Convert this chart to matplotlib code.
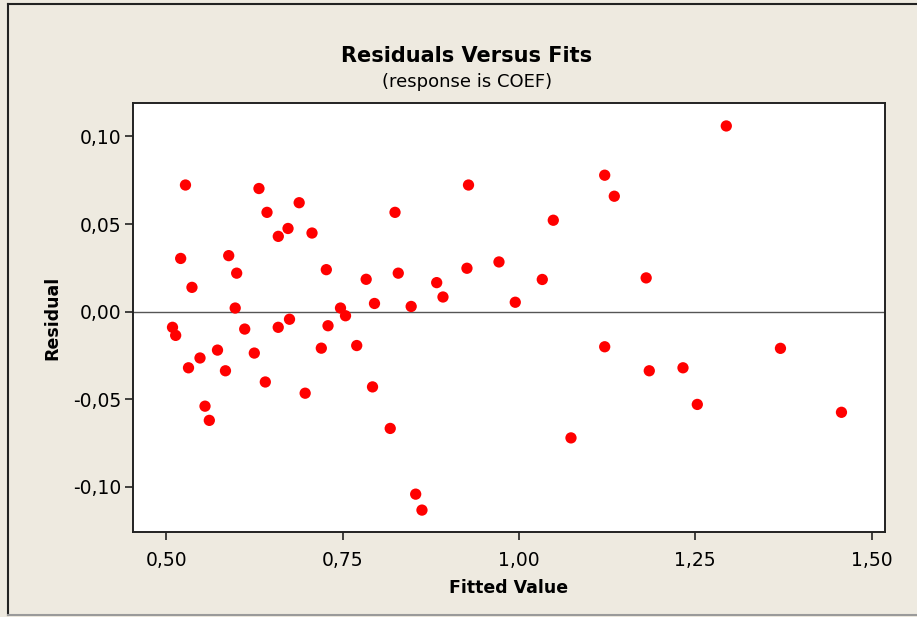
import matplotlib
matplotlib.use("Agg")
import matplotlib.pyplot as plt
from matplotlib.lines import Line2D
import numpy as np

# fitted values and residuals
fitted = [0.5088, 0.5133, 0.5204, 0.5272, 0.5315, 0.5364, 0.5478, 0.5549, 0.5610, 0.5726,
          0.5839, 0.5885, 0.5977, 0.5998, 0.6112, 0.6248, 0.6314, 0.6404, 0.6428, 0.6588,
          0.6587, 0.6726, 0.6747, 0.6884, 0.6969, 0.7066, 0.7198, 0.7269, 0.7293, 0.7470,
          0.7541, 0.7700, 0.7834, 0.7924, 0.7952, 0.8175, 0.8243, 0.8289, 0.8472, 0.8536,
          0.8625, 0.8834, 0.8923, 0.9263, 0.9285, 0.9717, 0.9948, 1.0331, 1.0487, 1.0738,
          1.1216, 1.1216, 1.1352, 1.1804, 1.1848, 1.2326, 1.2529, 1.2940, 1.3708, 1.4573]
residuals = [-0.0089, -0.0135, 0.0304, 0.0723, -0.0320, 0.0139, -0.0264, -0.0539, -0.0620, -0.0219,
             -0.0337, 0.0320, 0.0021, 0.0220, -0.0099, -0.0236, 0.0703, -0.0401, 0.0567, 0.0430,
             -0.0089, 0.0475, -0.0043, 0.0622, -0.0465, 0.0449, -0.0208, 0.0240, -0.0080, 0.0021,
             -0.0023, -0.0193, 0.0185, -0.0429, 0.0047, -0.0666, 0.0567, 0.0220, 0.0030, -0.1041,
             -0.1132, 0.0166, 0.0084, 0.0248, 0.0723, 0.0284, 0.0054, 0.0184, 0.0522, -0.0720,
             0.0779, -0.0200, 0.0659, 0.0193, -0.0337, -0.0320, -0.0529, 0.1060, -0.0209, -0.0574]

xTicks = [0.50, 0.75, 1.00, 1.25, 1.50]
xTickLabels = ["0,50", "0,75", "1,00", "1,25", "1,50"]
yTicks = [-0.10, -0.05, 0.00, 0.05, 0.10]
yTickLabels = ["-0,10", "-0,05", "0,00", "0,05", "0,10"]

BgColor = "#EEEAE0"
W, H = 917, 617

fig = plt.figure(figsize=(W / 100, H / 100), dpi=100, facecolor=BgColor)
ax = fig.add_axes([133 / W, 1 - 532 / H, (884.7 - 133) / W, (532 - 103) / H])
ax.set_facecolor("white")

ax.axhline(0, color="#555555", linewidth=1.0, zorder=1)
ax.scatter(fitted, residuals, s=66, color="#FF0000", edgecolors="none", zorder=3)

ax.set_xlim(0.4528, 1.5186)
ax.set_ylim(-0.1257, 0.1191)
ax.set_xticks(xTicks)
ax.set_xticklabels(xTickLabels)
ax.set_yticks(yTicks)
ax.set_yticklabels(yTickLabels)
ax.tick_params(axis="both", direction="out", length=5.5, width=1.2, color="#222222",
               labelsize=13.5, labelcolor="#000000")
ax.tick_params(axis="x", pad=8)
ax.tick_params(axis="y", pad=3)

for side in ["left", "right", "top", "bottom"]:
    ax.spines[side].set_color("#222222")
    ax.spines[side].set_linewidth(1.4)

# titles and axis labels
fig.text(467 / W, 1 - 62.3 / H, "Residuals Versus Fits", ha="center", va="baseline",
         fontsize=15, fontweight="bold", color="#000000")
fig.text(467 / W, 1 - 87.3 / H, "(response is COEF)", ha="center", va="baseline",
         fontsize=13, color="#000000")
fig.text(508.8 / W, 1 - 593.3 / H, "Fitted Value", ha="center", va="baseline",
         fontsize=12.5, fontweight="bold", color="#000000")
fig.text(52 / W, 1 - 317.5 / H, "Residual", ha="center", va="center", rotation=90,
         fontsize=12.5, fontweight="bold", color="#000000")

# outer frame: dark on left/top, grey at the bottom
fig.add_artist(Line2D([8 / W, 8 / W], [1 - 4 / H, 1 - 615 / H], transform=fig.transFigure,
                      color="#222222", linewidth=1.5))
fig.add_artist(Line2D([8 / W, 1.0], [1 - 4 / H, 1 - 4 / H], transform=fig.transFigure,
                      color="#222222", linewidth=1.5))
fig.add_artist(Line2D([8 / W, 1.0], [1 - 615 / H, 1 - 615 / H], transform=fig.transFigure,
                      color="#9A9A9A", linewidth=1.5))

fig.savefig("out.png", dpi=100, facecolor=BgColor)
